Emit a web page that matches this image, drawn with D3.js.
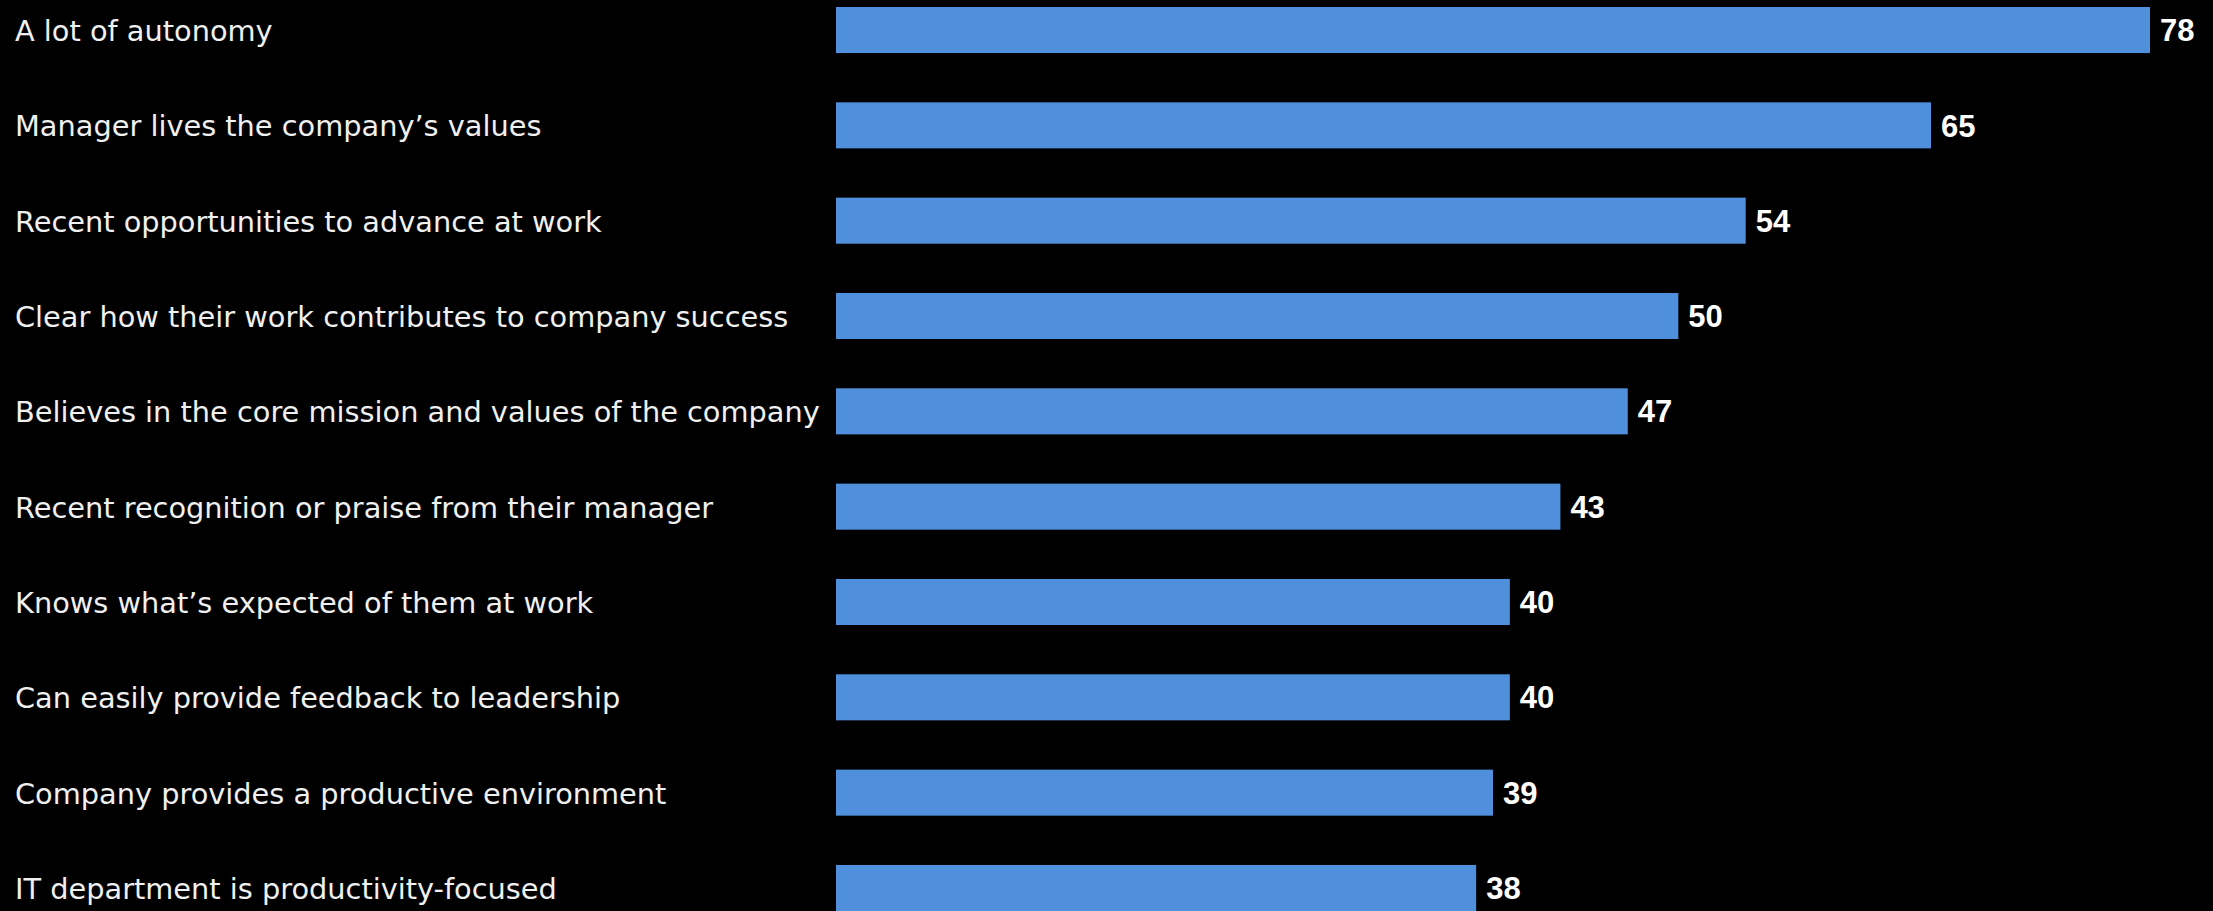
<!DOCTYPE html>
<html>
<head>
<meta charset="utf-8">
<script src="https://cdn.jsdelivr.net/npm/d3@7"></script>
<style>
  html, body { margin: 0; padding: 0; background: #000; }
  svg { display: block; }
</style>
</head>
<body>
<svg id="chart" width="2213" height="911"></svg>
<script>
// Drivers of engagement, share of employees (%)
const categories = [
  "A lot of autonomy",
  "Manager lives the company\u2019s values",
  "Recent opportunities to advance at work",
  "Clear how their work contributes to company success",
  "Believes in the core mission and values of the company",
  "Recent recognition or praise from their manager",
  "Knows what\u2019s expected of them at work",
  "Can easily provide feedback to leadership",
  "Company provides a productive environment",
  "IT department is productivity-focused"
];
const values = [78, 65, 54, 50, 47, 43, 40, 40, 39, 38];

const W = 2213, H = 911;
const svg = d3.select("#chart");

svg.append("rect").attr("width", W).attr("height", H).attr("fill", "#000");

const x = d3.scaleLinear().domain([0, 78]).range([836, 2150]);
const y = d3.scaleBand().domain(categories).range([7, 911]).paddingInner(0.517).paddingOuter(0);

const rows = svg.selectAll("g.row")
  .data(categories.map((c, i) => ({ c, v: values[i] })))
  .join("g")
  .attr("class", "row");

rows.append("rect")
  .attr("x", x(0))
  .attr("y", d => y(d.c))
  .attr("width", d => x(d.v) - x(0))
  .attr("height", y.bandwidth())
  .attr("fill", "#4f8fdb");

rows.append("text")
  .attr("x", 15)
  .attr("y", d => y(d.c) + y.bandwidth() / 2)
  .attr("dy", "0.38em")
  .attr("fill", "#f0f0f0")
  .attr("font-family", "'DejaVu Sans', sans-serif")
  .attr("font-size", 28.8)
  .text(d => d.c);

rows.append("text")
  .attr("x", d => x(d.v) + 10)
  .attr("y", d => y(d.c) + y.bandwidth() / 2)
  .attr("dy", "0.36em")
  .attr("fill", "#ffffff")
  .attr("font-family", "'Liberation Sans', Arial, sans-serif")
  .attr("font-weight", "bold")
  .attr("font-size", 31)
  .text(d => d.v);
</script>
</body>
</html>
